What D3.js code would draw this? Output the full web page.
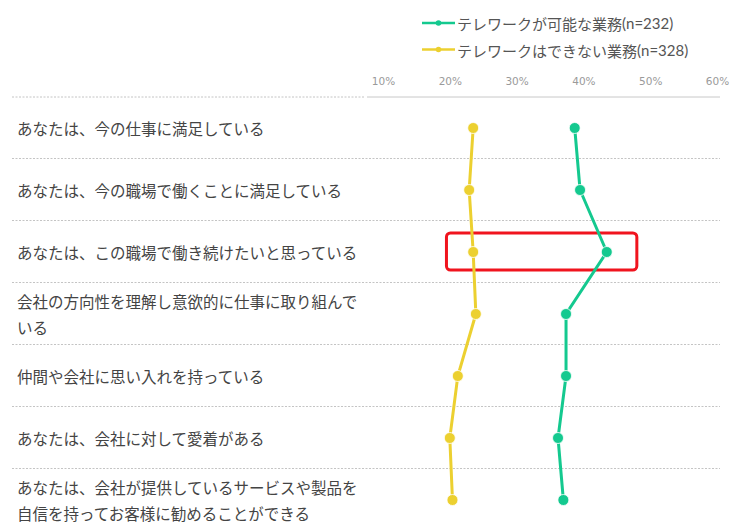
<!DOCTYPE html>
<html><head><meta charset="utf-8">
<script src="https://cdn.jsdelivr.net/npm/d3@7"></script>
<style>
html,body{margin:0;padding:0;background:#fff;}
svg{display:block;}
</style>
</head><body>
<svg id="chart" width="736" height="527"></svg>
<script>
const categories = [
  ["あなたは、今の仕事に満足している"],
  ["あなたは、今の職場で働くことに満足している"],
  ["あなたは、この職場で働き続けたいと思っている"],
  ["会社の方向性を理解し意欲的に仕事に取り組んで", "いる"],
  ["仲間や会社に思い入れを持っている"],
  ["あなたは、会社に対して愛着がある"],
  ["あなたは、会社が提供しているサービスや製品を", "自信を持ってお客様に勧めることができる"]
];
const seriesNames = ["テレワークが可能な業務(n=232)", "テレワークはできない業務(n=328)"];
const teleworkPossible = [38.7, 39.5, 43.5, 37.4, 37.4, 36.2, 37.0];
const teleworkImpossible = [23.5, 22.9, 23.5, 23.9, 21.2, 20.0, 20.4];
const tickValues = [10, 20, 30, 40, 50, 60];
const highlightRow = 2;
const highlightRange = [19.5, 48];

const colors = ["#14c98f", "#ecd030"];
const svg = d3.select("#chart");

const x = d3.scaleLinear().domain([10, 60]).range([383, 717]);
const y = d3.scaleBand().domain(d3.range(categories.length)).range([97, 531]).padding(0);
const yc = i => y(i) + y.bandwidth() / 2;

// tick labels (top axis)
const axis = d3.axisTop(x).tickValues(tickValues).tickFormat(d => d + "%").tickSize(0).tickPadding(0);
const axG = svg.append("g").attr("transform", "translate(0,85)").call(axis);
axG.select(".domain").remove();
axG.selectAll("text").attr("fill", "#9a9a9a").attr("font-family", "DejaVu Sans, Verdana, sans-serif").attr("font-size", 10.5);

// top line
svg.append("line").attr("x1", 12).attr("x2", 365).attr("y1", 97).attr("y2", 97)
  .attr("stroke", "#c4c4c4").attr("stroke-width", 1).attr("stroke-dasharray", "2,1.5");
svg.append("line").attr("x1", 367).attr("x2", 720).attr("y1", 97).attr("y2", 97)
  .attr("stroke", "#c8c8c8").attr("stroke-width", 1);

// separator dashed lines
svg.append("g").selectAll("line").data(d3.range(1, categories.length + 1)).join("line")
  .attr("x1", 12).attr("x2", 720)
  .attr("y1", d => y(0) + d * y.bandwidth() - 0.5).attr("y2", d => y(0) + d * y.bandwidth() - 0.5)
  .attr("stroke", "#c4c4c4").attr("stroke-width", 1).attr("stroke-dasharray", "2,1.5");

// category labels
const lab = svg.append("g").selectAll("text").data(categories).join("text")
  .attr("font-family", "'Noto Sans CJK JP', sans-serif").attr("font-size", 15.5)
  .attr("fill", "#444").attr("x", 17)
  .attr("y", (d, i) => yc(i))
  .attr("dominant-baseline", "central");
lab.each(function(d, i) {
  const t = d3.select(this);
  const lh = 26;
  const off = d.length > 1 ? -13 : 0;
  d.forEach((line, k) => {
    t.append("tspan").attr("x", 17).attr("y", yc(i) + off + k * lh).text(line);
  });
});

// highlight box
svg.append("rect")
  .attr("x", x(highlightRange[0])).attr("width", x(highlightRange[1]) - x(highlightRange[0]))
  .attr("y", y(highlightRow) + 12).attr("height", y.bandwidth() - 25)
  .attr("rx", 4).attr("fill", "none").attr("stroke", "#f0141e").attr("stroke-width", 3);

// series
const series = [teleworkPossible, teleworkImpossible];
const line = d3.line().x(d => x(d)).y((d, i) => yc(i));
series.forEach((vals, s) => {
  svg.append("path").datum(vals).attr("d", line).attr("fill", "none")
    .attr("stroke", colors[s]).attr("stroke-width", 3);
  svg.append("g").selectAll("circle").data(vals).join("circle")
    .attr("cx", d => x(d)).attr("cy", (d, i) => yc(i)).attr("r", 5.5)
    .attr("fill", colors[s]).attr("stroke", "#fff").attr("stroke-width", 0.8);
});

// legend
const leg = svg.append("g");
seriesNames.forEach((name, s) => {
  const ly = 23 + s * 26.5;
  leg.append("line").attr("x1", 422).attr("x2", 455).attr("y1", ly).attr("y2", ly)
    .attr("stroke", colors[s]).attr("stroke-width", 2.5);
  leg.append("circle").attr("cx", 438.5).attr("cy", ly).attr("r", 2.8).attr("fill", colors[s]);
  const idx = name.indexOf("(");
  const t = leg.append("text").attr("x", 457).attr("y", ly).attr("dominant-baseline", "central")
    .attr("font-family", "'Noto Sans CJK JP', sans-serif").attr("font-size", 15)
    .attr("fill", "#555");
  t.append("tspan").text(name.slice(0, idx));
  t.append("tspan").attr("font-family", "Lato, sans-serif").text(name.slice(idx));
});
</script>
</body></html>
